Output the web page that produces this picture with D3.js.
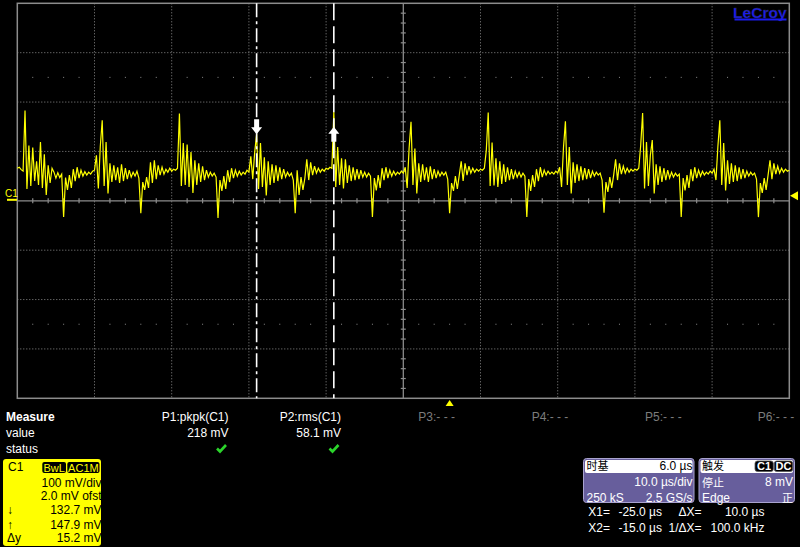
<!DOCTYPE html>
<html><head><meta charset="utf-8">
<script src="https://cdn.jsdelivr.net/npm/d3@7"></script>
<style>
html,body{margin:0;padding:0;background:#000;}
svg{display:block;}
text{font-family:"Liberation Sans",Arial,sans-serif;}
.cjk{font-family:"Noto Sans CJK SC","Liberation Sans",sans-serif;}
</style></head><body>
<svg id="c" width="800" height="547"></svg>
<script>
// ---------------- data ----------------
const timeStartUs = -56;
const timeEndUs = 44;
const timePerDivUs = 10;
const sampleStepUs = 0.25;
const voltsPerDivMv = 100;
const offsetMv = 2.0;
const triggerTimeUs = 0;
const triggerLevelMv = 8;

// C1 trace, mV, one sample every 0.25 µs from -56 µs to +44 µs
const trace = [
  64, 66, 61, 58,
  // burst -55 µs
  181, 22, 110, 28, 106, 38, 78, 30, 117, 24, 92, 10, 70, 34, 64, 56, 44, 55, 45, 52,
  -35, 45, 20, 50, 24, 62, 38, 66, 44, 60, 48, 57, 50, 56, 52, 58, 60, 90, 23, 108,
  // burst -45 µs
  161, 28, 117, 13, 74, 36, 70, 40, 66, 34, 72, 38, 64, 42, 60, 46, 56, 48, 58, 44,
  -27, 36, 20, 46, 24, 76, 34, 80, 42, 70, 50, 66, 52, 62, 56, 64, 58, 62, 60, 64,
  // burst -35 µs
  175, 28, 115, 30, 112, 26, 97, 14, 80, 30, 74, 36, 68, 40, 60, 46, 56, 48, 54, 46,
  -37, 40, 18, 48, 22, 60, 36, 64, 44, 60, 48, 58, 50, 56, 52, 60, 56, 88, 42, 96,
  // burst -25 µs
  133, 22, 115, 26, 86, 9, 78, 30, 72, 34, 70, 38, 66, 42, 62, 46, 56, 48, 54, 40,
  -27, 60, 10, 46, 20, 44, 82, 40, 76, 50, 68, 54, 64, 56, 62, 58, 64, 62, 66, 64,
  // burst -15 µs
  178, 26, 107, 30, 84, 23, 82, 34, 70, 38, 66, 40, 62, 42, 60, 46, 56, 46, 54, 48,
  -35, 44, 19, 50, 24, 64, 40, 66, 44, 60, 48, 58, 50, 56, 52, 58, 54, 66, 24, 104,
  // burst -5 µs
  158, 30, 104, 13, 74, 36, 72, 40, 66, 36, 68, 42, 62, 44, 58, 48, 56, 50, 56, 42,
  -27, 34, 18, 48, 22, 50, 78, 38, 74, 50, 68, 54, 64, 56, 62, 58, 62, 60, 64, 100,
  // burst 5 µs
  177, 28, 116, 29, 84, 26, 78, 32, 72, 36, 66, 40, 62, 42, 58, 46, 56, 46, 54, 48,
  -35, 42, 18, 50, 26, 62, 38, 66, 46, 60, 50, 58, 52, 56, 52, 58, 54, 66, 26, 106,
  // burst 15 µs
  159, 30, 107, 13, 76, 34, 72, 38, 68, 40, 64, 42, 62, 44, 58, 48, 56, 50, 54, 40,
  -26, 36, 16, 46, 24, 50, 82, 40, 74, 52, 68, 54, 64, 56, 62, 58, 62, 60, 64, 110,
  // burst 25 µs
  176, 23, 117, 28, 90, 121, 13, 72, 30, 68, 36, 64, 40, 60, 44, 56, 46, 54, 48, 52,
  -35, 44, 19, 50, 24, 62, 38, 66, 44, 60, 48, 58, 50, 56, 52, 58, 54, 62, 40, 108,
  // burst 35 µs
  161, 30, 115, 19, 80, 32, 74, 36, 70, 38, 66, 42, 62, 44, 58, 48, 56, 50, 54, 42,
  -35, 34, 14, 44, 20, 50, 80, 42, 74, 52, 68, 54, 64, 56, 62, 58, 60
];

const cursorTimesUs = [-25.0, -15.0];
const cursorValuesMv = [132.7, 147.9];

const measureLabels = ["P1:pkpk(C1)", "P2:rms(C1)", "P3:- - -", "P4:- - -", "P5:- - -", "P6:- - -"];
const measureValues = ["218 mV", "58.1 mV", "", "", "", ""];
const measureOk = [true, true, false, false, false, false];

const channelTags = ["BwL", "AC1M"];
const channelRows = [["", "100 mV/div"], ["", "2.0 mV ofst"], ["↓", "132.7 mV"], ["↑", "147.9 mV"], ["Δy", "15.2 mV"]];

const timebaseRows = [["时基", "6.0 µs"], ["", "10.0 µs/div"], ["250 kS", "2.5 GS/s"]];
const triggerRows = [["触发", ""], ["停止", "8 mV"], ["Edge", "正"]];
const triggerTags = ["C1", "DC"];
const cursorReadouts = [["X1=", "-25.0 µs", "ΔX=", "10.0 µs"], ["X2=", "-15.0 µs", "1/ΔX=", "100.0 kHz"]];

// ---------------- drawing ----------------
const svg = d3.select("#c");
svg.append("rect").attr("width", 800).attr("height", 547).attr("fill", "#000");

const plot = {left: 17.3, right: 789.3, top: 3.3, bottom: 398.3};
const x = d3.scaleLinear().domain([timeStartUs, timeEndUs]).range([plot.left, plot.right]);
const y = d3.scaleLinear().domain([-4 * voltsPerDivMv - offsetMv, 4 * voltsPerDivMv - offsetMv]).range([plot.bottom, plot.top]);

const gridCol = "#8a8a8a";
const g = svg.append("g");
const nDivX = (timeEndUs - timeStartUs) / timePerDivUs;
const xMajors = d3.range(1, nDivX).map(i => timeStartUs + i * timePerDivUs);
const yMajors = d3.range(-3, 4).filter(k => k !== 0).map(k => k * voltsPerDivMv - offsetMv);
const centerT = timeStartUs + 5 * timePerDivUs;
const centerV = -offsetMv;

g.selectAll(".vx").data(xMajors.filter(t => t !== centerT)).join("line")
  .attr("x1", d => x(d)).attr("x2", d => x(d)).attr("y1", plot.top).attr("y2", plot.bottom)
  .attr("stroke", gridCol).attr("stroke-width", 1).attr("stroke-dasharray", "1,2");
g.selectAll(".hy").data(yMajors).join("line")
  .attr("y1", d => y(d)).attr("y2", d => y(d)).attr("x1", plot.left).attr("x2", plot.right)
  .attr("stroke", gridCol).attr("stroke-width", 1).attr("stroke-dasharray", "1,2");

// dot rows at ±2.5 div
const minorX = d3.range(0, nDivX * 5 + 1).map(i => timeStartUs + i * timePerDivUs / 5).filter((t, i) => i % 5 !== 0);
[2.5, -2.5].forEach(k => {
  g.selectAll(null).data(minorX).join("rect")
    .attr("x", d => x(d) - 0.5).attr("y", y(k * voltsPerDivMv - offsetMv) - 0.5)
    .attr("width", 1).attr("height", 1).attr("fill", gridCol);
});

// center axes with ticks
g.append("line").attr("x1", plot.left).attr("x2", plot.right).attr("y1", y(centerV)).attr("y2", y(centerV))
  .attr("stroke", "#8c8c8c").attr("stroke-width", 1.3);
g.append("line").attr("y1", plot.top).attr("y2", plot.bottom).attr("x1", x(centerT)).attr("x2", x(centerT))
  .attr("stroke", "#8c8c8c").attr("stroke-width", 1.3);
g.selectAll(".tx").data(minorX).join("line")
  .attr("x1", d => x(d)).attr("x2", d => x(d)).attr("y1", y(centerV) - 2.5).attr("y2", y(centerV) + 2.5)
  .attr("stroke", "#8c8c8c").attr("stroke-width", 1.2);
const minorY = d3.range(-20, 21).filter(i => i % 5 !== 0).map(i => i * voltsPerDivMv / 5 - offsetMv);
g.selectAll(".ty").data(minorY).join("line")
  .attr("y1", d => y(d)).attr("y2", d => y(d)).attr("x1", x(centerT) - 2.5).attr("x2", x(centerT) + 2.5)
  .attr("stroke", "#8c8c8c").attr("stroke-width", 1.2);

// border
g.append("rect").attr("x", plot.left).attr("y", plot.top).attr("width", plot.right - plot.left).attr("height", plot.bottom - plot.top)
  .attr("fill", "none").attr("stroke", "#8c8c8c").attr("stroke-width", 1.5);

// trace
const line = d3.line().x((d, i) => x(timeStartUs + i * sampleStepUs)).y(d => y(d));
svg.append("path").datum(trace).attr("d", line).attr("fill", "none")
  .attr("stroke", "#ffff00").attr("stroke-width", 1.2).attr("stroke-linejoin", "miter");

// cursors
const dashes = ["14,4,3,4", "17,6"];
cursorTimesUs.forEach((t, i) => {
  svg.append("line").attr("x1", x(t)).attr("x2", x(t)).attr("y1", plot.top).attr("y2", plot.bottom)
    .attr("stroke", "#fff").attr("stroke-width", 1.6).attr("stroke-dasharray", dashes[i]);
});
// cursor arrows
(function () {
  const cx = x(cursorTimesUs[0]), ty = y(cursorValuesMv[0]);
  svg.append("path").attr("fill", "#fff")
    .attr("d", `M${cx - 2.5},${ty - 15} L${cx + 2.5},${ty - 15} L${cx + 2.5},${ty - 7} L${cx + 5.5},${ty - 7} L${cx},${ty} L${cx - 5.5},${ty - 7} L${cx - 2.5},${ty - 7} Z`);
  const cx2 = x(cursorTimesUs[1]), ty2 = y(cursorValuesMv[1]);
  svg.append("path").attr("fill", "#fff")
    .attr("d", `M${cx2 - 2.5},${ty2 + 15} L${cx2 + 2.5},${ty2 + 15} L${cx2 + 2.5},${ty2 + 7} L${cx2 + 5.5},${ty2 + 7} L${cx2},${ty2} L${cx2 - 5.5},${ty2 + 7} L${cx2 - 2.5},${ty2 + 7} Z`);
})();

// channel ground marker
svg.append("text").attr("x", 5).attr("y", 196.5).attr("fill", "#ffff00").attr("font-size", 10).text("C1");
svg.append("rect").attr("x", 7).attr("y", y(0) - 1).attr("width", 10).attr("height", 2).attr("fill", "#ffff00");
// trigger level marker
const tl = y(triggerLevelMv);
svg.append("path").attr("d", `M790,${tl} L798,${tl - 4.5} L798,${tl + 4.5} Z`).attr("fill", "#ffff00");
// trigger position marker
const tp = x(triggerTimeUs);
svg.append("path").attr("d", `M${tp},400 L${tp + 4},406 L${tp - 4},406 Z`).attr("fill", "#ffff00");

// LeCroy logo
svg.append("text").attr("x", 786.5).attr("y", 18).attr("text-anchor", "end").attr("font-size", 15.5).attr("font-weight", "bold")
  .attr("fill", "#1a1aee").attr("stroke", "#333").attr("stroke-width", 0.3).text("LeCroy");
svg.append("rect").attr("x", 734.5).attr("y", 18.5).attr("width", 52).attr("height", 2).attr("fill", "#1a1aee");

// measure section
svg.append("text").attr("x", 6).attr("y", 420.5).attr("fill", "#fff").attr("font-size", 12).attr("font-weight", "bold").text("Measure");
svg.append("text").attr("x", 6).attr("y", 436.5).attr("fill", "#fff").attr("font-size", 12).text("value");
svg.append("text").attr("x", 6).attr("y", 452.5).attr("fill", "#fff").attr("font-size", 12).text("status");
const mEnds = [228.5, 341];
const mStarts = [null, null, 418.3, 531.7, 645, 757.7];
measureLabels.forEach((lab, i) => {
  if (i < 2) {
    svg.append("text").attr("x", mEnds[i]).attr("y", 420.5).attr("text-anchor", "end").attr("fill", "#fff").attr("font-size", 12).text(lab);
    svg.append("text").attr("x", mEnds[i]).attr("y", 436.5).attr("text-anchor", "end").attr("fill", "#fff").attr("font-size", 12).text(measureValues[i]);
    if (measureOk[i]) {
      const cx = mEnds[i] - 7, cy = 448.5;
      svg.append("path").attr("d", `M${cx - 4.5},${cy} L${cx - 1.5},${cy + 3} L${cx + 4.5},${cy - 3.5}`)
        .attr("fill", "none").attr("stroke", "#2bd42b").attr("stroke-width", 2.6);
    }
  } else {
    svg.append("text").attr("x", mStarts[i]).attr("y", 420.5).attr("fill", "#7c7c7c").attr("font-size", 12).text(lab);
  }
});

// C1 channel box
const cb = svg.append("g");
cb.append("clipPath").attr("id", "cbclip").append("rect").attr("x", 3).attr("y", 459).attr("width", 98).attr("height", 87);
cb.append("rect").attr("x", 3).attr("y", 459).attr("width", 98).attr("height", 87).attr("rx", 3).attr("fill", "#ffff00");
cb.append("text").attr("x", 8).attr("y", 471).attr("fill", "#000").attr("font-size", 12).text("C1");
const tagX = [[42.3, 66], [67.3, 99.5]];
channelTags.forEach((t, i) => {
  cb.append("rect").attr("x", tagX[i][0]).attr("y", 462).attr("width", tagX[i][1] - tagX[i][0]).attr("height", 11)
    .attr("rx", 2).attr("fill", "#000");
  cb.append("text").attr("x", (tagX[i][0] + tagX[i][1]) / 2).attr("y", 471.5).attr("text-anchor", "middle")
    .attr("fill", "#ffff00").attr("font-size", 11).text(t);
});
const rowY = [487, 499.5, 514, 528.5, 542];
const cbt = cb.append("g").attr("clip-path", "url(#cbclip)");
channelRows.forEach((r, i) => {
  if (r[0]) cbt.append("text").attr("x", 7).attr("y", rowY[i]).attr("fill", "#000").attr("font-size", 12).text(r[0]);
  cbt.append("text").attr("x", 101.5).attr("y", rowY[i]).attr("text-anchor", "end").attr("fill", "#000").attr("font-size", 12).text(r[1]);
});

// timebase & trigger boxes
const isCjk = s => /[\u4e00-\u9fff]/.test(s);
function panel(x0, x1, rows, tags) {
  const p = svg.append("g");
  p.append("rect").attr("x", x0).attr("y", 458.5).attr("width", x1 - x0).attr("height", 44).attr("rx", 3)
    .attr("fill", "#675e9c").attr("stroke", "#a9a3cf").attr("stroke-width", 1);
  p.append("rect").attr("x", x0 + 1.5).attr("y", 460).attr("width", x1 - x0 - 3).attr("height", 13).attr("rx", 2).attr("fill", "#fff");
  const ys = [470, 486.5, 501.5];
  rows.forEach((r, i) => {
    const col = i === 0 ? "#000" : "#fff";
    if (r[0]) p.append("text").attr("class", isCjk(r[0]) ? "cjk" : null)
      .attr("x", x0 + 3).attr("y", ys[i]).attr("fill", col).attr("font-size", isCjk(r[0]) ? 11 : 12).text(r[0]);
    if (r[1]) p.append("text").attr("class", isCjk(r[1]) ? "cjk" : null)
      .attr("x", x1 - 1.5).attr("y", isCjk(r[1]) ? ys[i] : (i === 1 ? 486 : ys[i])).attr("text-anchor", "end").attr("fill", col)
      .attr("font-size", isCjk(r[1]) ? 11 : 12).text(r[1]);
  });
  if (tags) {
    const tx = [[755, 773.3], [774.3, 792.7]];
    tags.forEach((t, i) => {
      p.append("rect").attr("x", tx[i][0]).attr("y", 461).attr("width", tx[i][1] - tx[i][0]).attr("height", 10.5)
        .attr("rx", 2.5).attr("fill", "#000").attr("stroke", "#555").attr("stroke-width", 0.8);
      p.append("text").attr("x", (tx[i][0] + tx[i][1]) / 2).attr("y", 470.3).attr("text-anchor", "middle")
        .attr("fill", "#fff").attr("font-size", 11).attr("font-weight", "bold").text(t);
    });
  }
}
panel(583.5, 694, timebaseRows, null);
panel(699, 794.5, triggerRows, triggerTags);

// cursor readouts
const roY = [516, 531.5];
cursorReadouts.forEach((r, i) => {
  svg.append("text").attr("x", 588.3).attr("y", roY[i]).attr("fill", "#fff").attr("font-size", 12).text(r[0]);
  svg.append("text").attr("x", 662).attr("y", roY[i]).attr("text-anchor", "end").attr("fill", "#fff").attr("font-size", 12).text(r[1]);
  svg.append("text").attr("x", 701.5).attr("y", roY[i]).attr("text-anchor", "end").attr("fill", "#fff").attr("font-size", 12).text(r[2]);
  svg.append("text").attr("x", 764.5).attr("y", roY[i]).attr("text-anchor", "end").attr("fill", "#fff").attr("font-size", 12).text(r[3]);
});
</script>
</body></html>
